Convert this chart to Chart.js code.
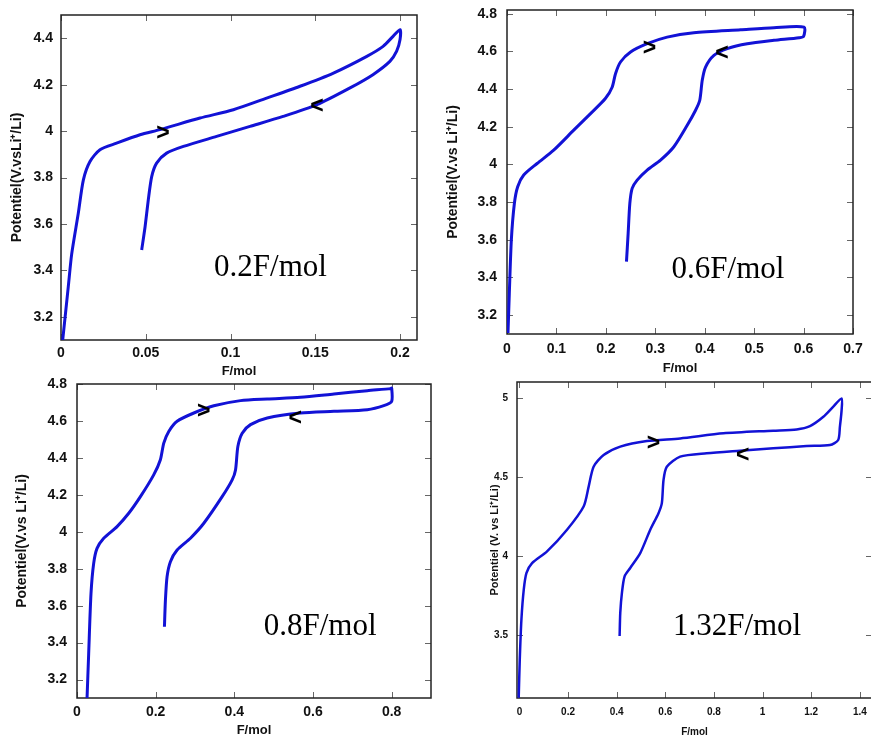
<!DOCTYPE html>
<html>
<head>
<meta charset="utf-8">
<script src="https://cdn.jsdelivr.net/npm/chart.js@4.4.1/dist/chart.umd.min.js"></script>
<style>
  body { margin: 0; width: 871px; height: 740px; overflow: hidden; background: #fff; position: relative; }
  canvas { position: absolute; }
</style>
</head>
<body>
<canvas id="c1" width="430" height="385" style="left:0;top:0"></canvas>
<canvas id="c2" width="425" height="385" style="left:440px;top:0"></canvas>
<canvas id="c3" width="440" height="366" style="left:0;top:374px"></canvas>
<canvas id="c4" width="441" height="368" style="left:440px;top:372px"></canvas>
<script>
// ---- data ----
// 0.2 F/mol cycle
const p1F = [0.001, 0.0043, 0.0063, 0.0102, 0.0132, 0.0171, 0.023, 0.0328, 0.0466, 0.0584, 0.082, 0.1017, 0.1213, 0.141, 0.1607, 0.1804, 0.19, 0.196, 0.2,
  0.2, 0.198, 0.194, 0.184, 0.1705, 0.151, 0.131, 0.1115, 0.0918, 0.0722, 0.0623, 0.0564, 0.0535, 0.0515, 0.0496, 0.0476];
const p1V = [3.10, 3.33, 3.47, 3.646, 3.79, 3.869, 3.92, 3.948, 3.984, 4.006, 4.056, 4.092, 4.142, 4.193, 4.25, 4.322, 4.365, 4.409, 4.437,
  4.394, 4.344, 4.30, 4.243, 4.186, 4.114, 4.063, 4.02, 3.977, 3.934, 3.905, 3.862, 3.804, 3.704, 3.588, 3.488];
// 0.6 F/mol cycle
const p2F = [0.002, 0.0047, 0.0088, 0.0149, 0.0216, 0.0338, 0.0608, 0.0945, 0.135, 0.169, 0.199, 0.2127, 0.2195, 0.2296, 0.25, 0.2836, 0.324, 0.378, 0.4727, 0.54, 0.601,
  0.6, 0.591, 0.54, 0.486, 0.4457, 0.4186, 0.4017, 0.395, 0.39, 0.3815, 0.3646, 0.3376, 0.3106, 0.2836, 0.2633, 0.2532, 0.2485, 0.2451, 0.2417];
const p2V = [3.105, 3.317, 3.6, 3.793, 3.882, 3.944, 4.005, 4.076, 4.182, 4.27, 4.35, 4.41, 4.482, 4.544, 4.597, 4.641, 4.676, 4.699, 4.715, 4.726, 4.729,
  4.68, 4.673, 4.659, 4.641, 4.615, 4.579, 4.517, 4.447, 4.341, 4.288, 4.208, 4.094, 4.023, 3.97, 3.917, 3.873, 3.793, 3.634, 3.484];
// 0.8 F/mol cycle
const p3F = [0.0255, 0.0297, 0.0356, 0.0424, 0.0509, 0.0679, 0.1018, 0.1315, 0.1612, 0.195, 0.212, 0.2206, 0.2333, 0.2545, 0.297, 0.3478, 0.4157, 0.4836, 0.568, 0.6532, 0.738, 0.7974, 0.8,
  0.8, 0.78, 0.738, 0.6532, 0.568, 0.4836, 0.4411, 0.42, 0.409, 0.403, 0.3945, 0.369, 0.3224, 0.2884, 0.2545, 0.2375, 0.229, 0.2248, 0.2223];
const p3V = [3.097, 3.341, 3.666, 3.829, 3.91, 3.965, 4.028, 4.10, 4.19, 4.308, 4.39, 4.48, 4.543, 4.598, 4.643, 4.682, 4.71, 4.719, 4.728, 4.746, 4.764, 4.775, 4.778,
  4.706, 4.683, 4.661, 4.652, 4.643, 4.616, 4.58, 4.534, 4.462, 4.335, 4.281, 4.19, 4.046, 3.965, 3.901, 3.838, 3.757, 3.63, 3.486];
// 1.32 F/mol cycle
const p4F = [-0.003, 0.0014, 0.0082, 0.0178, 0.0287, 0.052, 0.1136, 0.1957, 0.264, 0.2847, 0.305, 0.3462, 0.4147, 0.524, 0.661, 0.839, 1.044, 1.14, 1.195, 1.25, 1.29, 1.325,
  1.325, 1.318, 1.311, 1.277, 1.181, 1.044, 0.907, 0.77, 0.661, 0.606, 0.5926, 0.5857, 0.572, 0.538, 0.4968, 0.4557, 0.4325, 0.4215, 0.4147, 0.412];
const p4V = [3.102, 3.344, 3.597, 3.786, 3.891, 3.954, 4.028, 4.165, 4.312, 4.438, 4.564, 4.638, 4.691, 4.726, 4.743, 4.775, 4.792, 4.80, 4.821, 4.88, 4.943, 4.996,
  4.922, 4.817, 4.733, 4.701, 4.695, 4.68, 4.665, 4.649, 4.628, 4.564, 4.48, 4.333, 4.27, 4.165, 4.017, 3.923, 3.87, 3.765, 3.639, 3.492];

// tick labels
const p1XTicks = [0, 0.05, 0.1, 0.15, 0.2];
const p1YTicks = [3.2, 3.4, 3.6, 3.8, 4, 4.2, 4.4];
const p2XTicks = [0, 0.1, 0.2, 0.3, 0.4, 0.5, 0.6, 0.7];
const p2YTicks = [3.2, 3.4, 3.6, 3.8, 4, 4.2, 4.4, 4.6, 4.8];
const p3XTicks = [0, 0.2, 0.4, 0.6, 0.8];
const p3YTicks = [3.2, 3.4, 3.6, 3.8, 4, 4.2, 4.4, 4.6, 4.8];
const p4XTicks = [0, 0.2, 0.4, 0.6, 0.8, 1, 1.2, 1.4];
const p4YTicks = [3.5, 4, 4.5, 5];

// direction marks and cycle labels [text, F, V]
const p1Notes = [['>', 0.0602, 3.989], ['<', 0.151, 4.105], ['0.2F/mol', 0.1236, 3.41]];
const p2Notes = [['>', 0.288, 4.614], ['<', 0.435, 4.588], ['0.6F/mol', 0.447, 3.44]];
const p3Notes = [['>', 0.322, 4.651], ['<', 0.555, 4.61], ['0.8F/mol', 0.618, 3.484]];
const p4Notes = [['>', 0.551, 4.708], ['<', 0.918, 4.632], ['1.32F/mol', 0.895, 3.552]];

const SANS = '"Liberation Sans", Arial, sans-serif';

// gnuplot-like frame with inward ticks, plus the text notes
const framePlugin = {
  id: 'frame',
  beforeDatasetsDraw(chart, args, opts) {
    const { ctx, chartArea: a, scales: { x, y } } = chart;
    ctx.save();
    ctx.strokeStyle = '#666';
    ctx.lineWidth = 1;
    ctx.beginPath();
    x.ticks.forEach(t => {
      const px = Math.round(x.getPixelForValue(t.value)) + 0.5;
      ctx.moveTo(px, a.bottom); ctx.lineTo(px, a.bottom - 6);
      ctx.moveTo(px, a.top); ctx.lineTo(px, a.top + 6);
    });
    y.ticks.forEach(t => {
      const py = Math.round(y.getPixelForValue(t.value)) + 0.5;
      ctx.moveTo(a.left, py); ctx.lineTo(a.left + 6, py);
      ctx.moveTo(a.right, py); ctx.lineTo(a.right - 6, py);
    });
    ctx.stroke();
    ctx.strokeStyle = '#222';
    ctx.lineWidth = 1.5;
    ctx.strokeRect(a.left, a.top, a.right - a.left, a.bottom - a.top);
    ctx.restore();
  },
  afterDatasetsDraw(chart, args, opts) {
    const { ctx, scales: { x, y } } = chart;
    ctx.save();
    ctx.fillStyle = '#000';
    ctx.textAlign = 'center';
    ctx.textBaseline = 'middle';
    opts.notes.forEach(([text, f, v]) => {
      ctx.font = text.length === 1 ? 'bold 23px ' + SANS : '31px "Liberation Serif", "Times New Roman", serif';
      ctx.fillText(text, x.getPixelForValue(f), y.getPixelForValue(v));
    });
    ctx.restore();
  }
};

function fmt(v) {
  return String(Math.round(v * 100) / 100);
}

// keep the plot box where the layout padding puts it
function noEdgePadding(s) {
  s.paddingTop = 0; s.paddingBottom = 0; s.paddingLeft = 0; s.paddingRight = 0;
}

function makeChart(id, F, V, xTicks, yTicks, notes, p) {
  return new Chart(document.getElementById(id), {
    type: 'scatter',
    data: {
      datasets: [{
        data: F.map((f, i) => ({ x: f, y: V[i] })),
        showLine: true,
        borderColor: '#1212d6',
        borderWidth: p.lw,
        pointRadius: 0,
        tension: 0.25,
        fill: false
      }]
    },
    options: {
      responsive: false,
      animation: false,
      layout: { padding: { top: p.padTop, right: p.padRight, left: 0, bottom: 0 } },
      plugins: {
        legend: { display: false },
        tooltip: { enabled: false },
        frame: { notes: notes }
      },
      scales: {
        x: {
          type: 'linear',
          min: p.xMin, max: p.xMax,
          afterBuildTicks: s => { s.ticks = xTicks.map(v => ({ value: v })); },
          afterFit: s => { s.height = p.xH; noEdgePadding(s); },
          grid: { display: false, drawTicks: false },
          border: { display: false },
          ticks: { autoSkip: false, maxRotation: 0, padding: p.xPad, color: '#111', font: { family: SANS, size: p.tickSize, weight: 'bold' }, callback: v => fmt(v) },
          title: { display: true, text: 'F/mol', color: '#111', font: { family: SANS, size: p.xTitleSize, weight: 'bold' }, padding: { top: 0, bottom: p.xTitlePad } }
        },
        y: {
          type: 'linear',
          min: p.yMin, max: p.yMax,
          afterBuildTicks: s => { s.ticks = yTicks.map(v => ({ value: v })); },
          afterFit: s => { s.width = p.yW; noEdgePadding(s); },
          grid: { display: false, drawTicks: false },
          border: { display: false },
          ticks: { autoSkip: false, padding: p.yPad, color: '#111', font: { family: SANS, size: p.tickSize, weight: 'bold' }, callback: v => fmt(v) },
          title: { display: true, text: p.yTitle, color: '#111', font: { family: SANS, size: p.yTitleSize, weight: 'bold' }, padding: { top: p.yTitlePad, bottom: 0 } }
        }
      }
    },
    plugins: [framePlugin]
  });
}

makeChart('c1', p1F, p1V, p1XTicks, p1YTicks, p1Notes, {
  xMin: 0, xMax: 0.21, yMin: 3.1, yMax: 4.5, lw: 3,
  padTop: 15, padRight: 13, yW: 61, xH: 45, xPad: 5, yPad: 8,
  tickSize: 14, xTitleSize: 13, xTitlePad: 6, yTitleSize: 14, yTitlePad: 9,
  yTitle: 'Potentiel(V.vsLi\u207A/Li)'
});
makeChart('c2', p2F, p2V, p2XTicks, p2YTicks, p2Notes, {
  xMin: 0, xMax: 0.7, yMin: 3.1, yMax: 4.82, lw: 3,
  padTop: 10, padRight: 12, yW: 67, xH: 51, xPad: 7, yPad: 10,
  tickSize: 14, xTitleSize: 13, xTitlePad: 9, yTitleSize: 14, yTitlePad: 5,
  yTitle: 'Potentiel(V.vs Li\u207A/Li)'
});
makeChart('c3', p3F, p3V, p3XTicks, p3YTicks, p3Notes, {
  xMin: 0, xMax: 0.9, yMin: 3.1, yMax: 4.8, lw: 3,
  padTop: 10, padRight: 9, yW: 77, xH: 42, xPad: 6, yPad: 10,
  tickSize: 14, xTitleSize: 13, xTitlePad: 2, yTitleSize: 14, yTitlePad: 14,
  yTitle: 'Potentiel(V.vs Li\u207A/Li)'
});
makeChart('c4', p4F, p4V, p4XTicks, p4YTicks, p4Notes, {
  xMin: -0.01, xMax: 1.45, yMin: 3.1, yMax: 5.1, lw: 2.5,
  padTop: 10, padRight: 9, yW: 77, xH: 42, xPad: 8, yPad: 9,
  tickSize: 10, xTitleSize: 10, xTitlePad: 2, yTitleSize: 11, yTitlePad: 48,
  yTitle: 'Potentiel (V. vs Li\u207A/Li)'
});
</script>
</body>
</html>
